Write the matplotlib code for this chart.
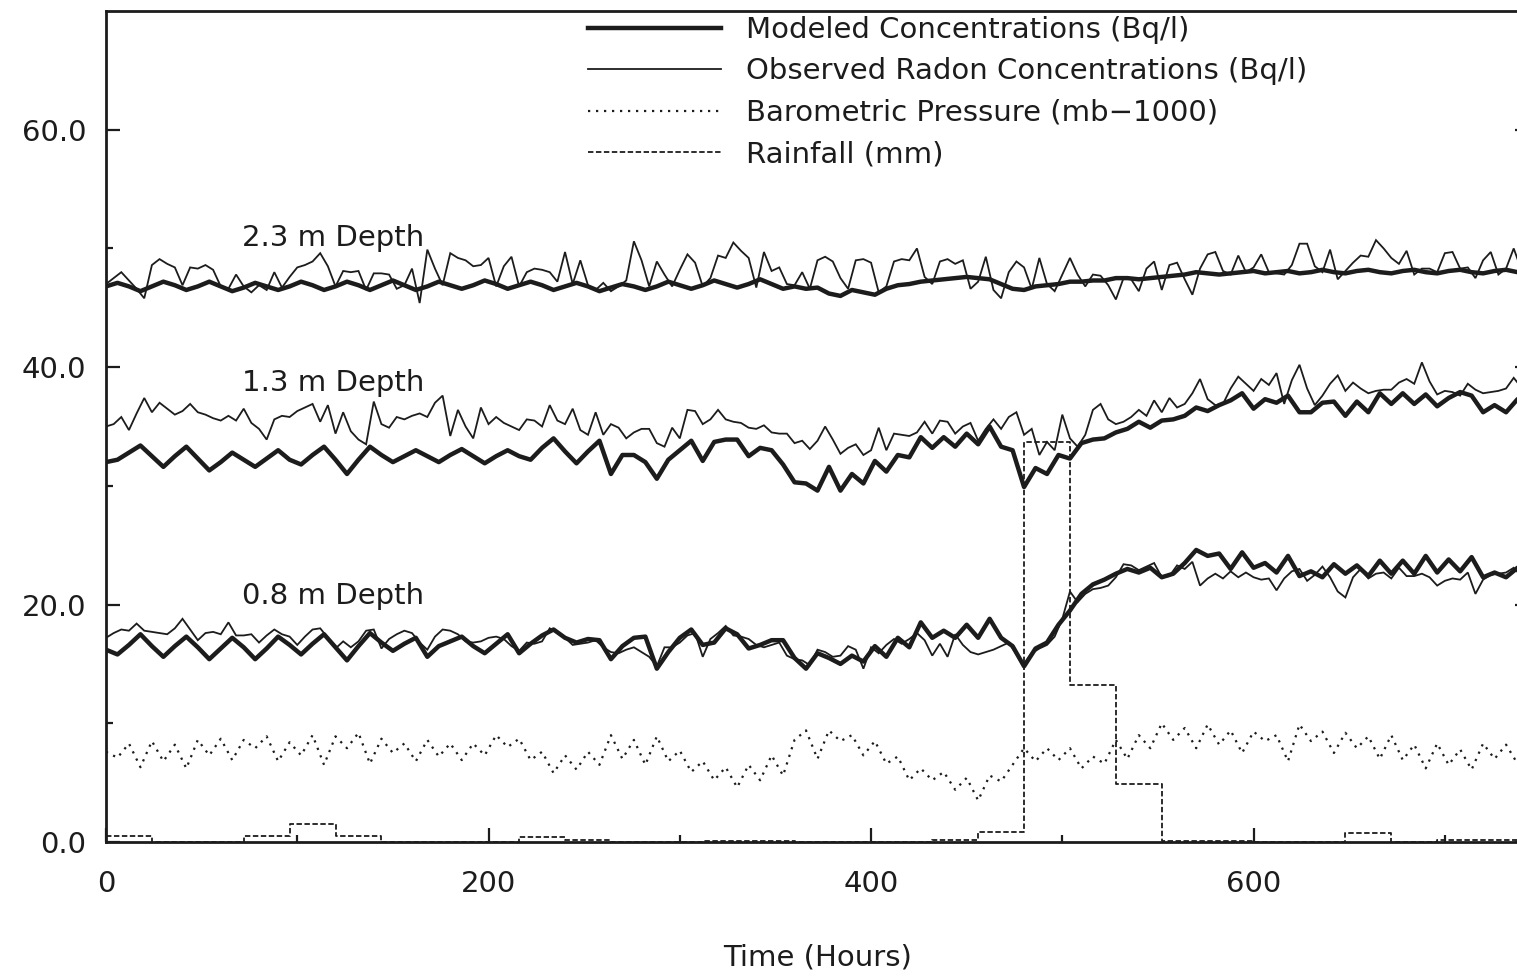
import numpy as np
import matplotlib
matplotlib.use("Agg")
import matplotlib.pyplot as plt

# ---------------------------------------------------------------------------
# Data
# ---------------------------------------------------------------------------
MODEL_STEP = 6      # hours between modeled / pressure samples
OBS_STEP = 4        # hours between observed radon samples
RAIN_STEP = 24      # daily rainfall totals

# Barometric pressure (mb - 1000), every 6 h
pressure = [
    7.6, 7.1, 8.3, 6.3, 8.5, 6.8, 8.2, 6.2,
    8.6, 7.3, 8.7, 6.9, 8.6, 7.9, 8.9, 6.8,
    8.4, 7.3, 9.0, 6.5, 8.9, 7.9, 9.2, 6.6,
    8.7, 7.5, 8.3, 6.8, 8.6, 7.2, 8.3, 6.9,
    8.3, 7.3, 9.0, 8.0, 8.7, 6.9, 7.6, 5.8,
    7.3, 6.1, 7.6, 6.5, 9.0, 7.0, 8.6, 6.5,
    8.9, 6.8, 7.7, 5.9, 6.8, 5.2, 6.3, 4.6,
    6.5, 5.2, 7.3, 5.6, 8.6, 9.4, 7.0, 9.4,
    8.5, 9.0, 7.3, 8.5, 6.6, 7.2, 5.2, 6.2,
    5.2, 5.9, 4.4, 5.4, 3.5, 5.6, 5.1, 6.5,
    7.9, 6.8, 7.9, 6.9, 7.9, 6.2, 7.2, 6.6,
    8.6, 7.0, 9.0, 7.9, 10.0, 8.6, 9.6, 7.9,
    9.9, 8.2, 9.4, 7.5, 9.3, 8.5, 9.0, 6.8,
    9.9, 8.5, 9.3, 7.5, 9.2, 7.9, 8.9, 7.0,
    9.0, 6.9, 8.2, 6.2, 8.3, 6.5, 7.8, 6.1,
    8.3, 7.0, 8.2, 6.6, 7.8,
]

# Daily rainfall (mm)
rainfall = [
    0.5, 0.0, 0.0, 0.5, 1.5, 0.5, 0.0, 0.0, 0.0, 0.45,
    0.15, 0.0, 0.0, 0.1, 0.1, 0.0, 0.0, 0.0, 0.15, 0.85,
    33.7, 13.2, 4.9, 0.1, 0.1, 0.0, 0.0, 0.8, 0.0, 0.15,
    0.15,
]

# 2.3 m depth
obs_23 = [
    47.0, 47.5, 48.0, 47.3, 46.6, 45.8, 48.6, 49.1, 48.7, 48.4,
    46.9, 48.4, 48.3, 48.6, 48.2, 46.8, 46.6, 47.8, 46.8, 46.3,
    46.9, 46.5, 48.0, 46.7, 47.6, 48.4, 48.6, 48.9, 49.6, 48.5,
    46.8, 48.1, 48.0, 48.1, 46.5, 47.9, 47.9, 47.8, 46.6, 46.9,
    48.3, 45.4, 49.9, 48.3, 46.9, 49.6, 49.2, 49.0, 48.5, 48.6,
    49.2, 46.8, 48.5, 49.3, 46.8, 48.0, 48.3, 48.2, 48.0, 47.2,
    49.7, 47.0, 49.0, 46.9, 46.5, 47.1, 46.4, 46.8, 47.3, 50.6,
    49.0, 46.8, 48.9, 47.8, 46.8, 48.2, 49.5, 48.8, 46.8, 47.5,
    49.4, 49.2, 50.5, 49.8, 49.2, 46.7, 49.7, 48.1, 48.4, 47.0,
    46.9, 48.0, 46.6, 49.0, 49.3, 48.9, 47.5, 46.6, 49.0, 49.1,
    48.8, 46.3, 46.8, 48.9, 49.1, 49.0, 50.0, 47.6, 47.0, 48.9,
    49.1, 48.7, 49.0, 46.6, 47.2, 49.3, 46.5, 45.8, 48.0, 48.9,
    48.4, 46.6, 49.2, 47.0, 46.4, 47.8, 49.2, 47.8, 46.8, 47.8,
    47.7, 46.9, 45.7, 47.5, 47.4, 46.4, 48.3, 48.9, 46.5, 48.6,
    48.8, 47.4, 46.1, 48.3, 49.5, 49.7, 48.1, 47.8, 49.4, 48.0,
    48.4, 49.5, 48.0, 47.9, 47.8, 48.6, 50.4, 50.4, 48.5, 48.0,
    49.9, 47.4, 48.1, 48.8, 49.4, 49.3, 50.7, 50.0, 49.2, 48.7,
    49.8, 47.8, 48.3, 48.3, 48.0, 49.6, 49.7, 48.3, 48.4, 47.5,
    49.0, 49.7, 47.8, 48.3, 50.0, 48.2, 48.4,
]
model_23 = [
    46.8, 47.1, 46.8, 46.4, 46.8, 47.2, 46.9, 46.5,
    46.8, 47.2, 46.8, 46.4, 46.7, 47.1, 46.8, 46.5,
    46.8, 47.2, 46.9, 46.5, 46.8, 47.2, 46.9, 46.5,
    46.9, 47.3, 46.9, 46.5, 46.8, 47.2, 46.9, 46.6,
    46.9, 47.3, 47.0, 46.6, 46.9, 47.2, 46.9, 46.5,
    46.8, 47.1, 46.8, 46.4, 46.7, 47.0, 46.8, 46.5,
    46.8, 47.2, 46.9, 46.6, 46.9, 47.3, 47.0, 46.7,
    47.0, 47.4, 47.0, 46.6, 46.8, 46.6, 46.7, 46.2,
    46.0, 46.5, 46.3, 46.1, 46.6, 46.9, 47.0, 47.2,
    47.3, 47.4, 47.5, 47.6, 47.5, 47.4, 47.0, 46.6,
    46.5, 46.8, 46.9, 47.0, 47.2, 47.2, 47.3, 47.3,
    47.5, 47.5, 47.4, 47.5, 47.6, 47.7, 47.8, 48.0,
    47.9, 47.8, 47.9, 48.0, 48.1, 47.9, 48.0, 48.1,
    47.9, 48.0, 48.2, 48.0, 47.9, 48.1, 48.2, 48.0,
    47.9, 48.1, 48.2, 48.0, 47.9, 48.1, 48.2, 48.0,
    47.9, 48.1, 48.2, 48.0, 48.0,
]

# 1.3 m depth
obs_13 = [
    35.0, 35.2, 35.8, 34.7, 36.1, 37.4, 36.2, 37.0, 36.5, 36.0,
    36.3, 36.9, 36.2, 36.0, 35.7, 35.5, 35.9, 35.5, 36.5, 35.3,
    34.8, 33.9, 35.6, 35.9, 35.8, 36.3, 36.6, 36.9, 35.4, 36.8,
    34.4, 36.2, 34.6, 33.9, 33.5, 37.1, 35.2, 34.9, 35.8, 35.6,
    35.9, 36.1, 35.8, 37.0, 37.6, 34.2, 36.4, 35.0, 34.0, 36.6,
    35.2, 35.8, 35.3, 35.0, 34.7, 35.6, 35.5, 35.0, 36.8, 35.5,
    35.2, 36.5, 34.7, 34.3, 36.2, 34.3, 35.2, 34.9, 34.0, 34.5,
    34.8, 34.8, 33.6, 33.3, 34.9, 34.0, 36.4, 36.3, 35.2, 35.6,
    36.4, 35.6, 35.4, 35.3, 34.9, 34.8, 35.1, 34.5, 34.4, 34.4,
    33.6, 33.8, 33.1, 33.8, 35.0, 33.9, 32.7, 33.2, 33.5, 32.6,
    33.0, 34.9, 33.0, 34.4, 34.3, 34.2, 34.5, 35.4, 34.4, 35.5,
    35.4, 34.4, 35.0, 35.3, 33.8, 34.8, 35.6, 34.8, 35.8, 36.2,
    34.3, 34.8, 32.6, 33.7, 33.0, 36.0, 34.0, 33.3, 34.3, 36.4,
    36.9, 35.6, 35.2, 35.4, 35.8, 36.4, 35.9, 37.2, 36.2, 37.4,
    36.6, 36.9, 37.8, 39.0, 37.3, 36.8, 36.9, 38.2, 39.2, 38.6,
    38.0, 39.0, 38.5, 39.5, 36.9, 38.9, 40.2, 38.2, 36.8, 37.6,
    38.6, 39.3, 38.0, 38.7, 38.2, 37.8, 38.0, 38.1, 38.1, 38.7,
    39.0, 38.6, 40.4, 38.8, 37.7, 38.0, 37.9, 37.6, 38.6, 38.1,
    37.8, 37.9, 38.0, 38.2, 39.1, 38.3, 38.2,
]
model_13 = [
    32.0, 32.2, 32.8, 33.4, 32.5, 31.6, 32.5, 33.3,
    32.3, 31.3, 32.0, 32.8, 32.2, 31.6, 32.3, 33.0,
    32.2, 31.8, 32.6, 33.3, 32.2, 31.0, 32.2, 33.3,
    32.6, 32.0, 32.5, 33.0, 32.5, 32.0, 32.6, 33.1,
    32.5, 31.9, 32.5, 33.0, 32.5, 32.2, 33.2, 34.0,
    32.9, 31.9, 32.9, 33.8, 31.0, 32.6, 32.6, 32.0,
    30.6, 32.2, 33.0, 33.8, 32.1, 33.7, 33.9, 33.9,
    32.5, 33.2, 33.0, 31.8, 30.3, 30.2, 29.6, 31.6,
    29.6, 31.0, 30.2, 32.1, 31.2, 32.6, 32.4, 34.1,
    33.2, 34.1, 33.3, 34.4, 33.5, 35.0, 33.3, 33.0,
    29.9, 31.5, 31.0, 32.6, 32.3, 33.6, 33.9, 34.0,
    34.5, 34.8, 35.4, 34.9, 35.5, 35.6, 35.9, 36.6,
    36.3, 36.8, 37.2, 37.8, 36.5, 37.3, 37.0, 37.6,
    36.2, 36.2, 37.0, 37.1, 35.9, 37.1, 36.2, 37.8,
    36.9, 37.8, 36.9, 37.7, 36.7, 37.4, 37.9, 37.6,
    36.2, 36.8, 36.2, 37.3, 36.8,
]

# 0.8 m depth
obs_08 = [
    17.2, 17.6, 17.9, 17.8, 18.4, 17.8, 17.7, 17.6, 17.5, 18.0,
    18.8, 17.9, 17.0, 17.6, 17.7, 17.5, 18.5, 17.4, 17.4, 17.5,
    16.8, 17.4, 17.9, 17.5, 17.3, 16.6, 17.3, 17.9, 18.0, 17.2,
    16.3, 16.9, 16.4, 16.9, 17.8, 17.9, 16.3, 17.1, 17.5, 17.8,
    17.6, 16.8, 16.2, 17.3, 17.9, 17.8, 17.5, 16.9, 16.8, 16.9,
    17.2, 17.3, 17.1, 16.5, 16.1, 16.8, 16.7, 16.9, 18.0, 17.6,
    17.2, 16.6, 16.7, 16.8, 17.0, 16.4, 16.0, 15.9, 16.2, 16.4,
    16.0, 15.6, 14.8, 16.4, 16.4, 16.8, 17.4, 17.6, 15.6, 17.1,
    17.6, 18.2, 17.4, 17.3, 17.1, 16.6, 16.4, 16.6, 16.8, 15.7,
    15.4, 15.3, 14.9, 16.2, 16.0, 15.6, 15.7, 16.5, 16.2, 14.6,
    16.4, 15.9, 16.6, 17.1, 16.7, 17.1, 17.6, 17.0, 15.7, 16.7,
    15.6, 17.5, 16.6, 16.0, 15.8, 16.0, 16.2, 16.5, 16.8, 15.8,
    15.0, 15.9, 16.3, 16.6, 17.3, 18.8, 21.1, 20.2, 20.9, 21.3,
    21.4, 21.6, 22.3, 23.4, 23.3, 22.9, 23.2, 23.5, 22.3, 22.4,
    23.3, 23.0, 23.6, 21.6, 22.2, 22.6, 22.2, 22.8, 22.3, 22.7,
    22.3, 22.1, 22.2, 21.2, 22.2, 22.8, 23.0, 22.0, 22.5, 23.2,
    22.3, 21.1, 20.6, 22.3, 23.0, 22.2, 22.6, 22.7, 22.2, 23.1,
    22.4, 22.4, 22.6, 22.3, 21.6, 22.0, 22.2, 22.1, 22.7, 20.9,
    22.1, 22.5, 22.6, 22.7, 23.1, 22.4, 22.5,
]
model_08 = [
    16.2, 15.8, 16.6, 17.5, 16.5, 15.6, 16.5, 17.3,
    16.4, 15.4, 16.3, 17.2, 16.4, 15.4, 16.3, 17.3,
    16.6, 15.8, 16.7, 17.5, 16.4, 15.3, 16.5, 17.6,
    16.8, 16.1, 16.7, 17.2, 15.6, 16.5, 16.9, 17.3,
    16.5, 15.9, 16.7, 17.5, 15.9, 16.7, 17.4, 17.9,
    17.2, 16.8, 17.1, 17.0, 15.4, 16.5, 17.2, 17.3,
    14.6, 16.0, 17.2, 17.9, 16.6, 16.8, 18.0, 17.5,
    16.3, 16.6, 17.0, 17.0, 15.5, 14.6, 15.9, 15.5,
    15.0, 15.7, 15.2, 16.5, 15.6, 17.2, 16.4, 18.5,
    17.2, 17.8, 17.2, 18.3, 17.2, 18.8, 17.2, 16.5,
    14.8, 16.3, 16.8, 18.3, 19.5, 20.9, 21.7, 22.1,
    22.6, 23.0, 22.7, 23.1, 22.3, 22.6, 23.5, 24.6,
    24.1, 24.3, 23.0, 24.4, 23.1, 23.5, 22.7, 24.1,
    22.4, 22.8, 22.3, 23.4, 22.6, 23.3, 22.4, 23.7,
    22.6, 23.7, 22.6, 24.1, 22.7, 23.8, 22.8, 24.0,
    22.3, 22.7, 22.3, 23.1, 22.8,
]

depth_labels = ["2.3 m Depth", "1.3 m Depth", "0.8 m Depth"]
depth_label_pos = [(71, 50.9), (71, 38.7), (71, 20.7)]

legend_labels = [
    "Modeled Concentrations (Bq/l)",
    "Observed Radon Concentrations (Bq/l)",
    "Barometric Pressure (mb\u22121000)",
    "Rainfall (mm)",
]

x_major = [0, 200, 400, 600]
x_minor = [100, 300, 500, 700]
y_major = [0, 20, 40, 60]
y_minor = [10, 30, 50]
x_ticklabels = ["0", "200", "400", "600"]
y_ticklabels = ["0.0", "20.0", "40.0", "60.0"]

# ---------------------------------------------------------------------------
# Figure
# ---------------------------------------------------------------------------
INK = "#1c1c1c"
FS = 21

plt.rcParams["font.family"] = ["DejaVu Sans"]

fig = plt.figure(figsize=(15.17, 9.76), dpi=100)
ax = fig.add_axes([106 / 1517, 134 / 976, 1423 / 1517, 831 / 976])


def hours(values, step):
    return np.arange(len(values)) * step


lw_model, lw_obs = 3.2, 1.3

for obs in (obs_23, obs_13, obs_08):
    ax.plot(hours(obs, OBS_STEP), obs, color=INK, lw=lw_obs,
            solid_joinstyle="miter")
for mod in (model_23, model_13, model_08):
    ax.plot(hours(mod, MODEL_STEP), mod, color=INK, lw=lw_model,
            solid_joinstyle="round")

ax.plot(hours(pressure, MODEL_STEP), pressure, color=INK, lw=1.6,
        linestyle=(0, (1.0, 2.6)))

rain_t = np.arange(len(rainfall) + 1) * RAIN_STEP
rain_v = list(rainfall) + [rainfall[-1]]
ax.plot(rain_t, rain_v, color=INK, lw=1.3, drawstyle="steps-post",
        linestyle=(0, (3.0, 1.4)))

for text, (tx, ty) in zip(depth_labels, depth_label_pos):
    ax.text(tx, ty, text, fontsize=FS, color=INK, ha="left", va="center")

# legend handles built from the same line styles
h_model, = ax.plot([], [], color=INK, lw=lw_model)
h_obs, = ax.plot([], [], color=INK, lw=lw_obs)
h_pres, = ax.plot([], [], color=INK, lw=1.6, linestyle=(0, (1.0, 2.6)))
h_rain, = ax.plot([], [], color=INK, lw=1.3, linestyle=(0, (3.0, 1.4)))
leg = ax.legend([h_model, h_obs, h_pres, h_rain], legend_labels,
                loc="upper left", bbox_to_anchor=(0.3387, 0.994),
                frameon=False, fontsize=FS, handlelength=4.55,
                handletextpad=0.86, labelspacing=0.46, borderpad=0.0,
                borderaxespad=0.0)
for t in leg.get_texts():
    t.set_color(INK)

ax.set_xlim(0, 744)
ax.set_ylim(0, 70)

ax.set_xticks(x_major)
ax.set_xticklabels(x_ticklabels)
ax.set_xticks(x_minor, minor=True)
ax.set_yticks(y_major)
ax.set_yticklabels(y_ticklabels)
ax.set_yticks(y_minor, minor=True)

ax.tick_params(axis="both", which="both", direction="in", colors=INK,
               labelsize=FS, width=1.6)
ax.tick_params(axis="y", which="both", right=True)
ax.tick_params(axis="x", which="major", length=10, pad=20)
ax.tick_params(axis="x", which="minor", length=5)
ax.tick_params(axis="y", which="major", length=10, pad=14)
ax.tick_params(axis="y", which="minor", length=5)

for side in ("left", "bottom", "top", "right"):
    ax.spines[side].set_linewidth(2.0)
    ax.spines[side].set_color(INK)

ax.set_xlabel("Time (Hours)", fontsize=FS, color=INK, labelpad=33)

fig.savefig("out.png", dpi=100, facecolor="white")
